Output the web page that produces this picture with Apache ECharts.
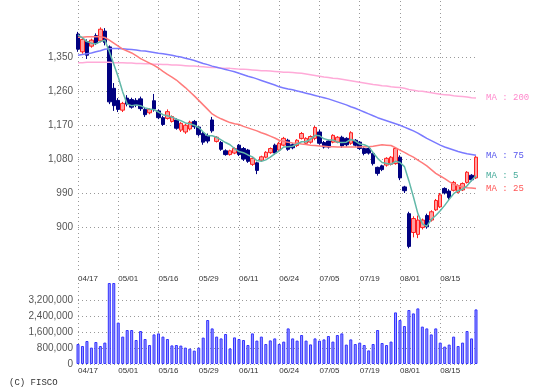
<!DOCTYPE html>
<html><head><meta charset="utf-8">
<script src="https://cdn.jsdelivr.net/npm/echarts@6/dist/echarts.min.js"></script>
<style>html,body{margin:0;padding:0;background:#fff}#c{width:542px;height:388px}</style>
</head><body><div id="c"></div>
<script>
const dates = ['04/17','04/18','04/19','04/22','04/23','04/24','04/25','04/26','04/30',
'05/01','05/02','05/07','05/08','05/09','05/10','05/13','05/14','05/15','05/16','05/17','05/20','05/21','05/22','05/23','05/24','05/27','05/28','05/29','05/30','05/31',
'06/03','06/04','06/05','06/06','06/07','06/10','06/11','06/12','06/13','06/14','06/17','06/18','06/19','06/20','06/21','06/24','06/25','06/26','06/27','06/28',
'07/01','07/02','07/03','07/04','07/05','07/08','07/09','07/10','07/11','07/12','07/16','07/17','07/18','07/19','07/22','07/23','07/24','07/25','07/26','07/29','07/30','07/31',
'08/01','08/02','08/05','08/06','08/07','08/08','08/09','08/13','08/14','08/15','08/16','08/19','08/20','08/21','08/22','08/23','08/26','08/27'];

const opens  = [1412,1365,1392,1380,1408,1394,1420,1378,1268,1236, 1210,1242,1238,1236,1240,1212,1203,1235,1208,1190, 1188,1180,1184,1157,1152,1160,1180,1165,1148,1142,
 1184,1127,1124,1102,1092,1096,1117,1108,1104,1066, 1070,1077,1085,1097,1117,1104,1117,1130,1118,1116, 1135,1122,1125,1135,1152,1124,1128,1125,1125,1138,
 1135,1122,1130,1125,1108,1108,1095,1058,1062,1064, 1066,1068,1085,1006,935,885,880,898,930,918, 945,953,1002,995,997,992,998,1018,1037,1030];
const closes = [1372,1398,1356,1396,1388,1425,1390,1232,1222,1212, 1228,1226,1218,1224,1214,1198,1212,1213,1190,1172, 1206,1193,1162,1175,1170,1178,1166,1145,1125,1128,
 1155,1138,1106,1092,1102,1108,1092,1080,1074,1082, 1050,1086,1098,1108,1096,1122,1135,1106,1110,1130, 1148,1135,1140,1164,1122,1112,1112,1143,1138,1115,
 1118,1150,1117,1108,1095,1096,1068,1042,1052,1082, 1085,1108,1030,996,848,922,918,918,900,940, 970,985,990,978,1018,1010,1015,1045,1025,1085];
const lows   = [1365,1360,1346,1376,1383,1390,1382,1226,1208,1205, 1205,1220,1214,1218,1208,1192,1199,1206,1186,1168, 1185,1177,1158,1152,1147,1156,1160,1140,1118,1122,
 1150,1124,1102,1089,1089,1093,1088,1075,1070,1062, 1040,1074,1082,1094,1092,1100,1114,1102,1106,1112, 1132,1118,1121,1130,1118,1108,1108,1122,1122,1110,
 1113,1118,1113,1104,1090,1092,1063,1036,1048,1060, 1063,1065,1024,990,843,872,870,893,895,914, 942,950,986,972,994,989,995,1015,1021,1027];
const highs  = [1418,1402,1398,1400,1414,1430,1428,1382,1282,1242, 1232,1250,1243,1242,1246,1216,1215,1253,1212,1195, 1212,1196,1188,1178,1174,1182,1184,1168,1152,1148,
 1192,1141,1128,1106,1105,1111,1120,1112,1107,1085, 1073,1089,1101,1111,1121,1126,1139,1134,1122,1133, 1152,1138,1143,1168,1158,1128,1131,1146,1141,1142,
 1138,1154,1133,1128,1111,1111,1098,1060,1065,1085, 1088,1112,1090,1009,940,928,930,922,935,944, 974,990,1005,1000,1022,1013,1018,1048,1040,1088];

const volumes = [1000000,900000,1150000,820000,1100000,900000,1070000,4050000,4050000,2070000,
 1370000,1700000,1700000,1200000,1650000,1250000,950000,1480000,1530000,1370000,
 1250000,930000,950000,920000,820000,770000,670000,820000,1320000,2200000,
 1780000,1370000,1280000,1500000,780000,1330000,1250000,1200000,950000,1530000,
 1170000,1370000,1000000,1180000,1280000,1000000,1120000,1780000,1280000,1170000,
 1450000,1170000,980000,1280000,1170000,1230000,1400000,1120000,1450000,1530000,
 970000,1230000,1000000,1070000,950000,680000,1000000,1700000,1050000,950000,
 1120000,2580000,2200000,1900000,2700000,2530000,2780000,1870000,1780000,1480000,
 1780000,1070000,870000,970000,1370000,900000,1070000,1650000,1280000,2730000];

const ma5 = [1410,1402,1392,1388,1386,1392,1396,1366,1332,1298, 1258,1226,1222,1224,1222,1216,1213,1211,1205,1198,
 1195,1192,1186,1182,1176,1174,1170,1164,1152,1142, 1142,1138,1131,1124,1118,1108,1100,1097,1091,1086,
 1076,1074,1078,1085,1094,1102,1112,1113,1114,1120, 1126,1126,1133,1143,1142,1134,1131,1131,1125,1124,
 1125,1132,1128,1120,1118,1113,1097,1082,1071,1068, 1066,1074,1071,1060,1022,980,935,908,901,920,
 930,943,957,973,988,996,1000,1009,1023,1036];
const ma25 = [1404,1404,1405,1405,1405,1405,1403,1396,1388,1380, 1372,1367,1362,1355,1347,1341,1335,1329,1322,1313,
 1305,1298,1290,1280,1270,1259,1248,1236,1224,1212, 1200,1193,1187,1182,1177,1174,1172,1167,1163,1159,
 1155,1150,1146,1141,1136,1130,1127,1125,1123,1122, 1120,1119,1117,1116,1115,1114,1113,1113,1112,1112,
 1112,1112,1112,1112,1113,1113,1114,1116,1118,1117, 1116,1110,1104,1098,1091,1085,1077,1070,1062,1052,
 1042,1035,1028,1020,1013,1009,1006,1004,1003,1002];
const ma75 = [1356,1358,1360,1362,1365,1368,1372,1373,1374,1374, 1373,1372,1371,1370,1368,1367,1365,1363,1361,1360,
 1358,1356,1353,1351,1348,1345,1342,1338,1334,1331, 1327,1324,1321,1318,1315,1312,1308,1304,1300,1297,
 1293,1289,1285,1281,1277,1272,1269,1266,1264,1261, 1258,1255,1252,1249,1246,1243,1240,1236,1232,1228,
 1224,1219,1215,1210,1205,1200,1195,1190,1186,1182, 1178,1174,1170,1165,1160,1155,1149,1142,1135,1129,
 1123,1117,1112,1108,1104,1100,1097,1094,1092,1090];
const ma200 = [1336,1336,1337,1337,1337,1337,1337,1337,1336,1336, 1336,1335,1335,1334,1334,1333,1333,1332,1332,1331,
 1331,1330,1330,1329,1328,1327,1327,1326,1325,1324, 1323,1323,1322,1321,1321,1320,1319,1319,1318,1317,
 1316,1315,1315,1314,1313,1312,1311,1311,1310,1309, 1308,1306,1304,1302,1300,1298,1297,1295,1294,1292,
 1290,1288,1286,1284,1282,1280,1278,1277,1275,1274, 1272,1271,1270,1268,1265,1263,1261,1260,1258,1256,
 1254,1252,1251,1250,1248,1247,1246,1245,1243,1242];

const priceTicks = [900, 990, 1080, 1170, 1260, 1350];
const volumeTicks = [0, 800000, 1600000, 2400000, 3200000];

const candles = opens.map((o, i) => [o, closes[i], lows[i], highs[i]]);
const fmt = v => Number(v).toLocaleString('en-US');
const grid = { color: '#999', width: 1, type: [1, 3] };
const mono = '"Liberation Mono","DejaVu Sans Mono",monospace';
const sans = '"Liberation Sans",Arial,sans-serif';

function maSeries(name, data, lineColor, textColor, lw) {
  return {
    name, type: 'line', data, xAxisIndex: 0, yAxisIndex: 0,
    symbol: 'none', smooth: false, z: 3,
    lineStyle: { color: lineColor, width: lw },
    endLabel: { show: true, formatter: name, color: textColor, fontFamily: mono, fontSize: 9, distance: 10 }
  };
}

const chart = echarts.init(document.getElementById('c'), null, { renderer: 'canvas' });
chart.setOption({
  animation: false,
  backgroundColor: '#fff',
  title: { text: '(C) FISCO', left: 4, top: 373, textStyle: { fontFamily: mono, fontSize: 9, fontWeight: 'normal', color: '#333' } },
  grid: [
    { left: 78, width: 398, top: 1, height: 271 },
    { left: 78, width: 398, top: 283, height: 81 }
  ],
  xAxis: [
    { type: 'category', gridIndex: 0, data: dates, boundaryGap: false,
      axisLine: { show: false }, axisTick: { show: false },
      axisLabel: { interval: 8, align: 'left', margin: 3, fontSize: 8, fontFamily: sans, color: '#333' },
      splitLine: { show: true, interval: 8, lineStyle: grid } },
    { type: 'category', gridIndex: 1, data: dates, boundaryGap: false,
      axisLine: { show: false }, axisTick: { show: false },
      axisLabel: { interval: 8, align: 'left', margin: 3, fontSize: 8, fontFamily: sans, color: '#333' },
      splitLine: { show: true, interval: 8, lineStyle: grid } }
  ],
  yAxis: [
    { type: 'value', gridIndex: 0, min: 780, max: 1500, scale: true,
      axisLine: { show: false }, axisTick: { show: false, customValues: priceTicks },
      axisLabel: { customValues: priceTicks, formatter: fmt, margin: 5, fontSize: 10, fontFamily: sans, color: '#555' },
      splitLine: { show: true, lineStyle: grid } },
    { type: 'value', gridIndex: 1, min: 0, max: 4050000,
      axisLine: { show: false }, axisTick: { show: false, customValues: volumeTicks },
      axisLabel: { customValues: volumeTicks, formatter: fmt, margin: 5, fontSize: 10, fontFamily: sans, color: '#555' },
      splitLine: { show: true, lineStyle: grid } }
  ],
  series: [
    { name: 'price', type: 'candlestick', data: candles, xAxisIndex: 0, yAxisIndex: 0, barWidth: 4, clip: false, z: 2,
      itemStyle: { color: '#ffa0a0', color0: '#000080', borderColor: '#ff2020', borderColor0: '#000080', borderWidth: 1 } },
    maSeries('MA : 200', ma200, '#ffaad8', '#ff88cc', 1.5),
    maSeries('MA : 75', ma75, '#7a7aff', '#5555ee', 1.5),
    maSeries('MA : 25', ma25, '#ff7b7b', '#ff5555', 1.5),
    maSeries('MA : 5', ma5, '#62b8a8', '#44aa99', 1.5),
    { name: 'volume', type: 'bar', data: volumes, xAxisIndex: 1, yAxisIndex: 1, barWidth: 3, clip: false,
      itemStyle: { color: '#9a9aff', borderColor: '#3333ff', borderWidth: 1 } }
  ]
});
</script>
</body></html>
